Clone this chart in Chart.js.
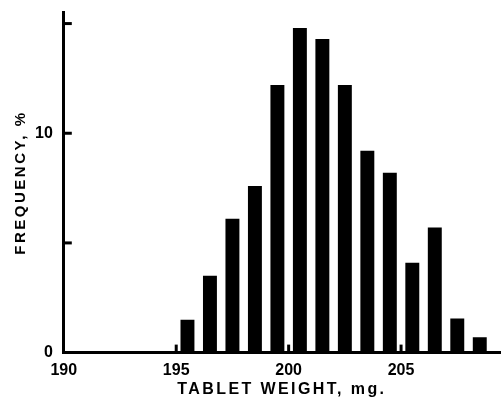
<!DOCTYPE html>
<html>
<head>
<meta charset="utf-8">
<title>Tablet weight frequency</title>
<script src="https://cdn.jsdelivr.net/npm/chart.js@4"></script>
<style>
  html, body { margin: 0; padding: 0; background: #fff; }
  #wrap { width: 501px; height: 399px; position: relative; }
</style>
</head>
<body>
<div id="wrap"><canvas id="weightChart"></canvas></div>
<script>
// bar centres (mg) and frequency (%)
const weights = [195.5, 196.5, 197.5, 198.5, 199.5, 200.5, 201.5, 202.5, 203.5, 204.5, 205.5, 206.5, 207.5, 208.5];
const frequency = [1.5, 3.5, 6.1, 7.6, 12.2, 14.8, 14.3, 12.2, 9.2, 8.2, 4.1, 5.7, 1.55, 0.7];
const yLabelled = [0, 10];

const FONT = '"Liberation Sans", Arial, sans-serif';

// tick marks point into the plot, so draw them ourselves from the scales
const innerTicks = {
    id: 'innerTicks',
    afterDatasetsDraw(chart) {
        const ctx = chart.ctx;
        const x = chart.scales.x, y = chart.scales.y;
        ctx.save();
        ctx.strokeStyle = '#000';
        ctx.lineWidth = 3;
        y.ticks.forEach(t => {
            if (t.value === 0) return;
            const py = y.getPixelForValue(t.value);
            ctx.beginPath();
            ctx.moveTo(x.left, py);
            ctx.lineTo(x.left + 8, py);
            ctx.stroke();
        });
        x.ticks.forEach(t => {
            if (t.value === x.min) return;
            const px = x.getPixelForValue(t.value);
            ctx.beginPath();
            ctx.moveTo(px, y.bottom);
            ctx.lineTo(px, y.bottom - 8);
            ctx.stroke();
        });
        ctx.restore();
    }
};

// the axis titles in the figure are widely letter-spaced
const spacedTitles = {
    id: 'spacedTitles',
    beforeDraw(chart) {
        Object.values(chart.scales).forEach(scale => {
            if (scale._spaced) return;
            const orig = scale.drawTitle;
            scale.drawTitle = function() {
                this.ctx.save();
                this.ctx.letterSpacing = this.axis === 'x' ? '2.4px' : '2.5px';
                orig.apply(this, arguments);
                this.ctx.restore();
            };
            scale._spaced = true;
        });
    }
};

const ctx = document.getElementById('weightChart').getContext('2d');
const weightChart = new Chart(ctx, {
    type: 'bar',
    data: {
        datasets: [{
            data: weights.map((w, i) => ({x: w, y: frequency[i]})),
            backgroundColor: '#000',
            borderWidth: 0,
            barPercentage: 0.62,
            categoryPercentage: 1
        }]
    },
    options: {
        responsive: true,
        maintainAspectRatio: false,
        animation: false,
        layout: {
            padding: {top: 9, right: 1, left: 12, bottom: 0}
        },
        plugins: {
            legend: {display: false},
            tooltip: {enabled: false}
        },
        scales: {
            x: {
                type: 'linear',
                min: 190,
                max: 209.4,
                offset: false,
                grid: {display: false},
                border: {display: true, color: '#000', width: 3},
                ticks: {
                    stepSize: 5,
                    includeBounds: false,
                    color: '#000',
                    padding: 0,
                    maxRotation: 0,
                    font: {family: FONT, size: 16, weight: 'bold'}
                },
                title: {
                    display: true,
                    text: 'TABLET WEIGHT, mg.',
                    color: '#000',
                    padding: {top: 0, bottom: 0},
                    font: {family: FONT, size: 16, weight: 'bold'}
                }
            },
            y: {
                min: 0,
                max: 15.5,
                grid: {display: false},
                border: {display: true, color: '#000', width: 3},
                ticks: {
                    stepSize: 5,
                    includeBounds: false,
                    color: '#000',
                    padding: 3,
                    font: {family: FONT, size: 16, weight: 'bold'},
                    callback: v => yLabelled.includes(v) ? v : ''
                },
                title: {
                    display: true,
                    text: 'FREQUENCY, %',
                    color: '#000',
                    padding: {top: 0, bottom: 2},
                    font: {family: FONT, size: 15, weight: 'bold'}
                }
            }
        }
    },
    plugins: [innerTicks, spacedTitles]
});
</script>
</body>
</html>
